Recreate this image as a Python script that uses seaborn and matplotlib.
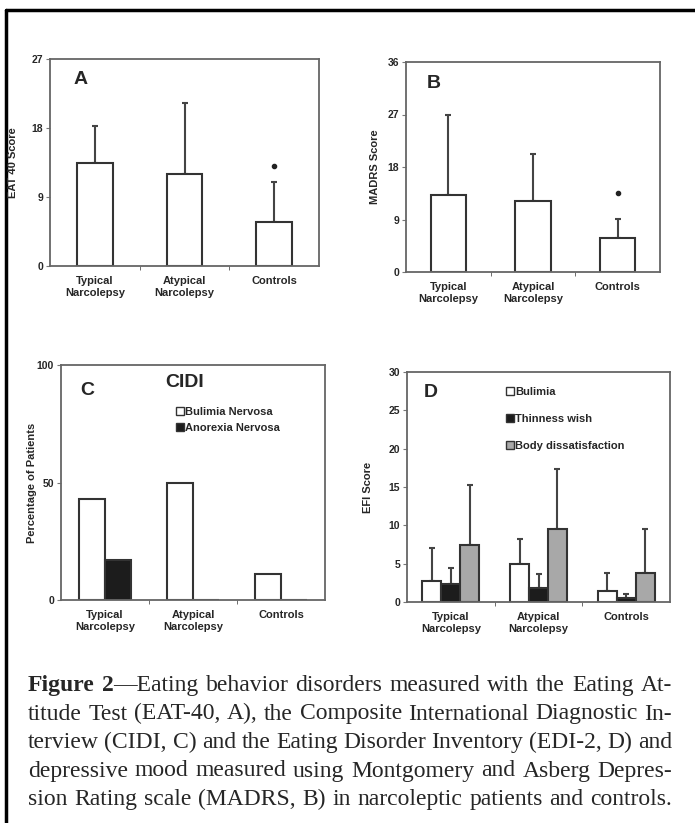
import matplotlib
matplotlib.use('Agg')
import matplotlib.pyplot as plt
from matplotlib.lines import Line2D
from matplotlib.patches import Patch
import seaborn as sns
import pandas as pd

# data
groups = ['Typical\nNarcolepsy', 'Atypical\nNarcolepsy', 'Controls']

eat_mean = [13.4, 12.0, 5.8]
eat_sd = [4.9, 9.3, 5.2]
eat_star = 13.1

madrs_mean = [13.2, 12.1, 5.8]
madrs_sd = [13.8, 8.2, 3.3]
madrs_star = 13.5

cidi_series = ['Bulimia Nervosa', 'Anorexia Nervosa']
cidi_bulimia = [43, 50, 11]
cidi_anorexia = [17, 0, 0]

edi_series = ['Bulimia', 'Thinness wish', 'Body dissatisfaction']
edi_bulimia = [2.7, 5.0, 1.4]
edi_bulimia_sd = [4.3, 3.2, 2.4]
edi_thin = [2.3, 1.8, 0.55]
edi_thin_sd = [2.1, 1.8, 0.55]
edi_body = [7.5, 9.5, 3.8]
edi_body_sd = [7.7, 7.8, 5.7]

caption_lines = [
    '**Figure** **2**—Eating behavior disorders measured with the Eating At-',
    'titude Test (EAT-40, A), the Composite International Diagnostic In-',
    'terview (CIDI, C) and the Eating Disorder Inventory (EDI-2, D) and',
    'depressive mood measured using Montgomery and Asberg Depres-',
    'sion Rating scale (MADRS, B) in narcoleptic patients and controls.',
]

sns.set_style('white')
plt.rcParams['font.family'] = ['Liberation Sans', 'DejaVu Sans']
plt.rcParams['font.weight'] = 'bold'

W, H = 695, 823
fig = plt.figure(figsize=(W / 100, H / 100), dpi=100)


def box(l, t, r, b):
    return [l / W, 1 - b / H, (r - l) / W, (b - t) / H]


ax_a = fig.add_axes(box(50, 59, 319, 266))
ax_b = fig.add_axes(box(406, 62, 660, 272))
ax_c = fig.add_axes(box(61, 365, 325, 600))
ax_d = fig.add_axes(box(407, 372, 670, 602))

edge = '#333333'


def style(ax, ylim, yticks, ylabel, labelx, letter, lx, ly):
    ax.set_xlim(-0.5, 2.5)
    ax.set_ylim(*ylim)
    ax.set_yticks(yticks)
    ax.set_xticks(range(3))
    ax.set_xticklabels(groups, fontsize=8, fontweight='bold', linespacing=1.3)
    ax.set_xticks([0.5, 1.5], minor=True)
    ax.tick_params(axis='x', which='major', length=0, pad=7)
    ax.tick_params(axis='x', which='minor', length=3, direction='out', color='#555', bottom=True)
    ax.tick_params(axis='y', length=3, direction='out', color='#777', labelsize=7.5, left=True, pad=2)
    for t in ax.get_yticklabels():
        t.set_fontweight('bold')
    ax.set_xlabel('')
    ax.set_ylabel(ylabel, fontsize=8, fontweight='bold')
    ax.yaxis.set_label_coords(labelx, 0.5)
    for s in ax.spines.values():
        s.set_color('#666666')
        s.set_linewidth(1.3)
    ax.text(lx, ly, letter, transform=ax.transAxes, fontsize=14, fontweight='bold',
            ha='center', va='center')


def upper_err(ax, container, sd):
    xs = [p.get_x() + p.get_width() / 2 for p in container.patches]
    hs = [p.get_height() for p in container.patches]
    ax.errorbar(xs, hs, yerr=[[0] * len(sd), sd], fmt='none', ecolor='#444444',
                elinewidth=1.5, capsize=2, capthick=1.5, zorder=1)


# A
sns.barplot(x=groups, y=eat_mean, color='white', edgecolor=edge, linewidth=1.5,
            width=0.4, saturation=1, ax=ax_a, zorder=2)
upper_err(ax_a, ax_a.containers[0], eat_sd)
ax_a.plot([2], [eat_star], marker='o', color='#222', ms=3, ls='none')
style(ax_a, (0, 27), [0, 9, 18, 27], 'EAT 40 Score', -(50 - 18) / 269, 'A', 0.113, 0.9)

# B
sns.barplot(x=groups, y=madrs_mean, color='white', edgecolor=edge, linewidth=1.5,
            width=0.42, saturation=1, ax=ax_b, zorder=2)
upper_err(ax_b, ax_b.containers[0], madrs_sd)
ax_b.plot([2], [madrs_star], marker='o', color='#222', ms=3, ls='none')
style(ax_b, (0, 36), [0, 9, 18, 27, 36], 'MADRS Score', -(406 - 380) / 254, 'B', 0.11, 0.9)

# C
cidi_df = pd.DataFrame({
    'group': groups * 2,
    'series': [cidi_series[0]] * 3 + [cidi_series[1]] * 3,
    'value': cidi_bulimia + cidi_anorexia,
})
cidi_pal = {cidi_series[0]: 'white', cidi_series[1]: '#1c1c1c'}
sns.barplot(data=cidi_df, x='group', y='value', hue='series', palette=cidi_pal,
            edgecolor=edge, linewidth=1.5, width=0.6, saturation=1, legend=False, ax=ax_c)
style(ax_c, (0, 100), [0, 50, 100], 'Percentage of Patients', -(61 - 37) / 264, 'C', 0.10, 0.89)
ax_c.text(0.47, 0.926, 'CIDI', transform=ax_c.transAxes, fontsize=14, fontweight='bold',
          ha='center', va='center')
ax_c.legend(handles=[Patch(facecolor=cidi_pal[s], edgecolor=edge, lw=1, label=s) for s in cidi_series],
            loc='upper left', bbox_to_anchor=(0.42, 0.84), frameon=False, fontsize=8,
            handlelength=0.7, handleheight=0.7, handletextpad=0.1, labelspacing=0.5,
            borderaxespad=0)

# D
edi_df = pd.DataFrame({
    'group': groups * 3,
    'series': [edi_series[0]] * 3 + [edi_series[1]] * 3 + [edi_series[2]] * 3,
    'value': edi_bulimia + edi_thin + edi_body,
})
edi_pal = {edi_series[0]: 'white', edi_series[1]: '#1c1c1c', edi_series[2]: '#a8a8a8'}
sns.barplot(data=edi_df, x='group', y='value', hue='series', palette=edi_pal,
            edgecolor=edge, linewidth=1.5, width=0.65, saturation=1, legend=False, ax=ax_d, zorder=2)
for cont, sd in zip(ax_d.containers, [edi_bulimia_sd, edi_thin_sd, edi_body_sd]):
    upper_err(ax_d, cont, sd)
style(ax_d, (0, 30), [0, 5, 10, 15, 20, 25, 30], 'EFI Score', -(407 - 373) / 263, 'D', 0.09, 0.91)
ax_d.legend(handles=[Patch(facecolor=edi_pal[s], edgecolor=edge, lw=1, label=s) for s in edi_series],
            loc='upper left', bbox_to_anchor=(0.36, 0.955), frameon=False, fontsize=8,
            handlelength=0.7, handleheight=0.7, handletextpad=0.1, labelspacing=1.55,
            borderaxespad=0)

# frame lines of the figure box (behind everything else)
fig.add_artist(Line2D([6 / W, 6 / W], [0, 1 - 10 / H], transform=fig.transFigure,
                      color='black', lw=2.5, zorder=-1))
fig.add_artist(Line2D([6 / W, 1], [1 - 10 / H, 1 - 10 / H], transform=fig.transFigure,
                      color='black', lw=2.5, zorder=-1))

# justified caption
renderer = fig.canvas.get_renderer()
serif = ['Liberation Serif', 'DejaVu Serif']
x0, x1 = 28, 672
for i, line in enumerate(caption_lines):
    y = 1 - (691 + i * 28.5) / H
    tokens = []
    for word in line.split(' '):
        parts = word.split('**')
        tokens.append([(p, k % 2 == 1) for k, p in enumerate(parts) if p])
    widths = []
    texts = []
    for tok in tokens:
        tw = 0
        row = []
        for p, b in tok:
            t = fig.text(0, y, p, fontsize=17, family=serif,
                         fontweight='bold' if b else 'normal', va='baseline', ha='left')
            w = t.get_window_extent(renderer).width
            row.append((t, w))
            tw += w
        texts.append(row)
        widths.append(tw)
    gap = (x1 - x0 - sum(widths)) / (len(tokens) - 1)
    x = x0
    for row, tw in zip(texts, widths):
        xx = x
        for t, w in row:
            t.set_x(xx / W)
            xx += w
        x += tw + gap

fig.savefig('out.png', dpi=100)
